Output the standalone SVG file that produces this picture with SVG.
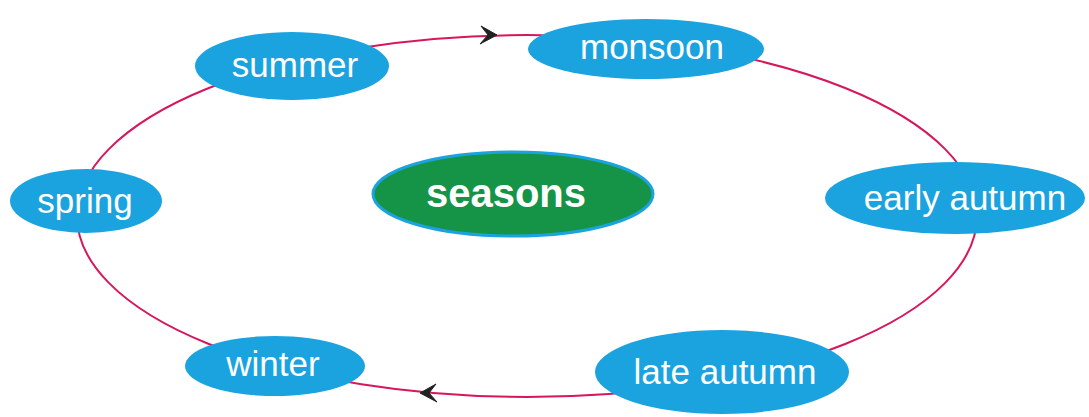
<svg xmlns="http://www.w3.org/2000/svg" width="1089" height="417" viewBox="0 0 1089 417">
<style>
.node{fill:#1ba3e0;}
.lbl{fill:#ffffff;font-family:"Liberation Sans",Arial,sans-serif;font-size:35px;text-anchor:middle;}
.center{fill:#159447;stroke:#1ba3e0;stroke-width:3;}
.clbl{fill:#ffffff;font-family:"Liberation Sans",Arial,sans-serif;font-size:40px;font-weight:bold;text-anchor:middle;}
.link{fill:none;stroke:#d6175c;stroke-width:2;}
.arrow{fill:#222222;stroke:#222222;stroke-width:1;stroke-linejoin:round;}
</style>
<rect width="1089" height="417" fill="#ffffff"/>
<g id="connectors">
<ellipse class="link" cx="527" cy="216" rx="450" ry="181"/>
<path class="arrow" d="M497,35 L481,26 L488,35 L480,44 Z"/>
<path class="arrow" d="M420,393 L436,384 L429,393 L437,402 Z"/>
</g>
<g id="seasons">
<ellipse class="center" cx="513" cy="194" rx="140" ry="42"/>
<text class="clbl" x="506" y="207">seasons</text>
</g>
<g id="summer">
<ellipse class="node" cx="292" cy="66" rx="97" ry="34"/>
<text class="lbl" x="295" y="77">summer</text>
</g>
<g id="monsoon">
<ellipse class="node" cx="646" cy="49" rx="118" ry="30"/>
<text class="lbl" x="652" y="59">monsoon</text>
</g>
<g id="early-autumn">
<ellipse class="node" cx="955" cy="198" rx="130" ry="36"/>
<text class="lbl" x="965" y="210">early autumn</text>
</g>
<g id="late-autumn">
<ellipse class="node" cx="722" cy="372" rx="127" ry="42"/>
<text class="lbl" x="725" y="384">late autumn</text>
</g>
<g id="winter">
<ellipse class="node" cx="275" cy="366" rx="90" ry="30"/>
<text class="lbl" x="273" y="376">winter</text>
</g>
<g id="spring">
<ellipse class="node" cx="86" cy="201" rx="76" ry="32"/>
<text class="lbl" x="85" y="213">spring</text>
</g>
</svg>
